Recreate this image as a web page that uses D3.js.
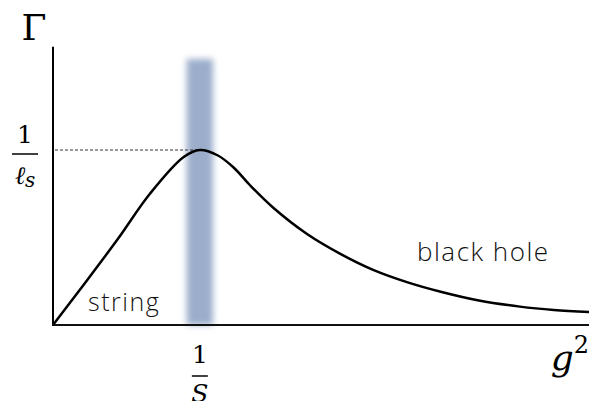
<!DOCTYPE html>
<html>
<head>
<meta charset="utf-8">
<script src="https://cdn.jsdelivr.net/npm/d3@7"></script>
<style>
  body { margin: 0; background: #fff; }
  svg { display: block; }
</style>
</head>
<body>
<div id="chart"></div>
<script>
// curve: g^2 in units of 1/S, Gamma in units of 1/l_s
const g2 = [0, 0.2, 0.44, 0.66, 0.89, 1.0, 1.12, 1.23, 1.34, 1.5, 1.73, 1.96, 2.18, 2.41, 2.64, 2.9, 3.18, 3.41, 3.65];
const gamma = [0, 0.22, 0.49, 0.75, 0.96, 1.0, 0.97, 0.9, 0.8, 0.67, 0.52, 0.405, 0.315, 0.245, 0.19, 0.14, 0.105, 0.086, 0.074];
const peakX = 1.0;     // 1/S
const peakY = 1.0;     // 1/l_s
const bandWidth = 0.18;

const width = 589;
const height = 401;

const x = d3.scaleLinear().domain([0, 3.65]).range([53, 589]);
const y = d3.scaleLinear().domain([0, 1]).range([325, 150]);

const svg = d3.select("#chart")
              .append("svg")
              .attr("width", width)
              .attr("height", height);

// blur for the shaded band
svg.append("defs")
   .append("filter")
   .attr("id", "blur")
   .attr("x", "-50%").attr("y", "-10%")
   .attr("width", "200%").attr("height", "120%")
   .append("feGaussianBlur")
   .attr("stdDeviation", 3);

svg.append("rect")
   .attr("x", x(peakX - bandWidth / 2))
   .attr("y", y(1.52))
   .attr("width", x(bandWidth) - x(0))
   .attr("height", y(0) - y(1.52))
   .attr("fill", "#9badcb")
   .attr("filter", "url(#blur)");

// dashed guide to the peak
svg.append("line")
   .attr("x1", x(0) + 2)
   .attr("x2", x(peakX) - 3)
   .attr("y1", y(peakY))
   .attr("y2", y(peakY))
   .attr("stroke", "#333")
   .attr("stroke-width", 1)
   .attr("stroke-dasharray", "3,2");

// axes
svg.append("line")
   .attr("x1", x(0)).attr("x2", x(0))
   .attr("y1", y(1.59)).attr("y2", y(0) + 1)
   .attr("stroke", "#000")
   .attr("stroke-width", 2);

svg.append("line")
   .attr("x1", x(0) - 1).attr("x2", width)
   .attr("y1", y(0)).attr("y2", y(0))
   .attr("stroke", "#111")
   .attr("stroke-width", 2);

// the curve
const line = d3.line()
               .x((d, i) => x(g2[i]))
               .y(d => y(d))
               .curve(d3.curveCatmullRom.alpha(0.5));

svg.append("path")
   .datum(gamma)
   .attr("d", line)
   .attr("fill", "none")
   .attr("stroke", "#000")
   .attr("stroke-width", 2.5);

// labels
const serif = "'DejaVu Serif', 'Liberation Serif', serif";

svg.append("text")
   .attr("x", 34)
   .attr("y", 40)
   .attr("text-anchor", "middle")
   .style("font-family", serif)
   .style("font-size", "36px")
   .text("Γ");

// 1 / l_s on the y axis
svg.append("text")
   .attr("x", 25)
   .attr("y", 143)
   .attr("text-anchor", "middle")
   .style("font-family", serif)
   .style("font-size", "25px")
   .text("1");

svg.append("line")
   .attr("x1", 12).attr("x2", 38)
   .attr("y1", 154).attr("y2", 154)
   .attr("stroke", "#000")
   .attr("stroke-width", 1.5);

const ls = svg.append("text")
              .attr("x", 25)
              .attr("y", 184)
              .attr("text-anchor", "middle")
              .style("font-family", serif)
              .style("font-size", "25px");
ls.append("tspan").style("font-style", "italic").text("ℓ");
ls.append("tspan").attr("dy", 3).style("font-style", "italic").style("font-size", "20px").text("s");

// 1 / S on the x axis
svg.append("text")
   .attr("x", x(peakX))
   .attr("y", 363)
   .attr("text-anchor", "middle")
   .style("font-family", serif)
   .style("font-size", "25px")
   .text("1");

svg.append("line")
   .attr("x1", x(peakX) - 8).attr("x2", x(peakX) + 8)
   .attr("y1", 376).attr("y2", 376)
   .attr("stroke", "#000")
   .attr("stroke-width", 1.5);

svg.append("text")
   .attr("x", x(peakX))
   .attr("y", 402)
   .attr("text-anchor", "middle")
   .style("font-family", serif)
   .style("font-size", "25px")
   .style("font-style", "italic")
   .text("S");

// g^2
const g = svg.append("text")
             .attr("x", 589)
             .attr("y", 370)
             .attr("text-anchor", "end")
             .style("font-family", serif)
             .style("font-size", "36px");
g.append("tspan").style("font-style", "italic").text("g");
g.append("tspan").attr("dy", -17).style("font-size", "24px").text("2");

// region labels
const sans = "'Open Sans', Lato, sans-serif";

svg.append("text")
   .attr("x", 88)
   .attr("y", 311)
   .style("font-family", sans)
   .style("font-size", "25px")
   .style("font-weight", 300)
   .style("letter-spacing", "1.5px")
   .style("fill", "#111")
   .text("string");

svg.append("text")
   .attr("x", 417)
   .attr("y", 261)
   .style("font-family", sans)
   .style("font-size", "26px")
   .style("font-weight", 300)
   .style("letter-spacing", "1.5px")
   .style("fill", "#111")
   .text("black hole");
</script>
</body>
</html>
